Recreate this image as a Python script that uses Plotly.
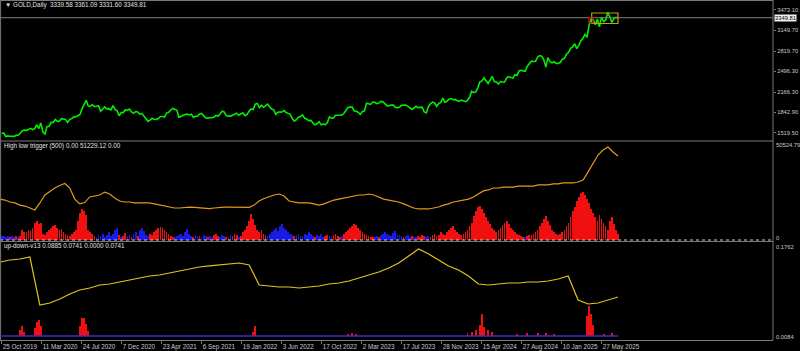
import numpy as np
import plotly.graph_objects as go

# ---------------- data ----------------
tick_labels = ["25 Oct 2019", "11 Mar 2020", "24 Jul 2020", "7 Dec 2020", "23 Apr 2021",
               "6 Sep 2021", "19 Jan 2022", "3 Jun 2022", "17 Oct 2022", "2 Mar 2023",
               "17 Jul 2023", "28 Nov 2023", "15 Apr 2024", "27 Aug 2024", "10 Jan 2025",
               "27 May 2025"]
tick_bar_index = [0, 96, 192, 288, 384, 480, 576, 672, 768, 864, 960, 1056, 1152, 1248, 1344, 1440]

price_ticks = [3473.10, 3149.70, 2819.70, 2496.30, 2166.30, 1842.90, 1519.50]
last_close = 3349.81
header_main = "▼ GOLD,Daily  3339.58 3361.09 3331.60 3349.81"
header_hlt = "High low trigger (500) 0.00 51229.12 0.00"
header_ud = "up-down-v13 0.0885 0.0741 0.0000 0.0741"
hlt_scale_labels = ["50524.79", "0"]
ud_scale_labels = ["0.1762", "0.0084"]

# weekly closes, 25 Oct 2019 .. 18 Jul 2025
gold_weekly_close = [
    1505, 1514, 1459, 1468, 1462, 1464, 1460, 1476, 1478, 1511,
    1552, 1562, 1557, 1571, 1589, 1570, 1584, 1643, 1585, 1673, 1530, 1498, 1617,
    1620, 1683, 1683, 1729, 1700, 1703, 1743, 1735, 1730, 1684, 1730, 1743, 1771,
    1774, 1798, 1810, 1902, 1975, 2035, 1944, 1940, 1964, 1934, 1940, 1950, 1861,
    1900, 1930, 1899, 1902, 1879, 1951, 1889, 1871, 1788, 1839, 1839, 1881, 1877,
    1895, 1849, 1828, 1856, 1848, 1814, 1824, 1784, 1734, 1700, 1719, 1745, 1733,
    1729, 1744, 1777, 1777, 1769, 1831, 1843, 1881, 1905, 1892, 1877, 1764, 1781,
    1787, 1808, 1815, 1802, 1814, 1763, 1780, 1781, 1817, 1827, 1787, 1754, 1751,
    1761, 1757, 1768, 1793, 1783, 1818, 1865, 1846, 1788, 1783, 1783, 1798, 1808, 1829,
    1797, 1818, 1835, 1791, 1808, 1859, 1898, 1889, 1970, 1988, 1921, 1958,
    1925, 1946, 1975, 1932, 1897, 1883, 1811, 1846, 1853, 1850, 1871, 1840, 1827,
    1811, 1742, 1703, 1727, 1766, 1775, 1802, 1747, 1737, 1712, 1716, 1675, 1644, 1661,
    1695, 1644, 1657, 1645, 1681, 1771, 1751, 1755, 1797, 1797, 1793, 1798, 1824,
    1865, 1920, 1926, 1928, 1865, 1865, 1842, 1811, 1856, 1868, 1989, 1978, 1969,
    2007, 2004, 1983, 1990, 2017, 2011, 1978, 1946, 1948, 1961, 1958, 1921, 1919,
    1925, 1955, 1962, 1959, 1943, 1914, 1889, 1915, 1940, 1919, 1924, 1925, 1849,
    1833, 1933, 1981, 2006, 1992, 1940, 1981, 2002, 2072, 2005, 2020, 2053, 2063,
    2045, 2049, 2029, 2018, 2039, 2024, 2013, 2035, 2083, 2179, 2156, 2165, 2233,
    2329, 2344, 2391, 2337, 2301, 2360, 2415, 2334, 2327, 2293, 2333, 2322, 2326,
    2392, 2411, 2400, 2386, 2443, 2431, 2507, 2512, 2503, 2497, 2578, 2621, 2658,
    2653, 2657, 2721, 2747, 2736, 2685, 2563, 2715, 2650, 2633, 2648, 2622, 2621,
    2640, 2690, 2703, 2770, 2798, 2861, 2883, 2936, 2858, 2910, 2984, 3023, 3085,
    3037, 3237, 3327, 3319, 3240, 3325, 3204, 3358, 3289, 3310, 3433, 3368, 3274,
    3337, 3355, 3349.81,
]

# High low trigger line (thousands), evenly sampled over the drawn bars
hlt_line_k = [
    21.1, 20.6, 19.6, 19.1, 18.0, 17.5, 16.5, 15.5, 19.1, 23.2, 25.0, 26.8, 28.1, 29.1,
    26.8, 21.1, 18.6, 19.3, 22.2, 22.7, 23.2, 24.7, 23.7, 21.7, 20.1, 19.6, 19.6, 19.1,
    19.1, 19.3, 19.1, 18.6, 18.0, 17.5, 17.0, 16.5, 16.5, 16.8, 17.0, 16.8, 16.5, 16.5,
    16.2, 16.5, 16.8, 17.0, 17.0, 17.0, 16.8, 16.8, 16.8, 18.0, 20.1, 21.4, 22.4, 23.2,
    23.7, 22.7, 20.1, 19.6, 19.1, 19.1, 19.1, 18.6, 18.0, 18.6, 19.6, 20.6, 21.1, 21.7,
    22.2, 22.7, 23.2, 23.2, 23.7, 23.2, 22.2, 21.1, 20.6, 20.1, 19.6, 18.6, 17.5, 16.5,
    16.0, 16.0, 16.0, 16.5, 17.0, 18.0, 18.6, 19.6, 20.1, 20.6, 21.1, 22.2, 23.7, 25.3,
    25.8, 26.8, 26.8, 27.3, 27.3, 27.3, 27.8, 27.8, 27.8, 27.8, 28.4, 28.4, 28.4, 28.9,
    28.9, 29.4, 29.4, 29.4, 29.9, 30.9, 35.1, 39.7, 43.8, 46.4, 47.9, 45.4, 43.3,
]

# High low trigger histogram, one value per week (thousands); + red, - blue
hlt_hist_k = [
    -2, -2, -1.5, -2, 1.5, -2, -1.5, 2, -1.5, 2,
    5, 4, 4, 5, 4.5, 6, 9, 10, 8, 9,
    3, 2.5, 4, 5, 6,
    7, 7.5, 6, 5, 5.5, 4, 3,
    2.5, 2, 3, 4, 5,
    10, 14, 16, 15, 13,
    5, 4, 3, 2,
    -1.5, -2.5, -2, -3, -1.5, -2.5, -4, -2, -3, -5, -6,
    2.5, -1.5, 2, 3.5, -2, -2.5, 1.5, -3, -4, 2, -5, -6, -4.5,
    -2.5, -2, 3, 2.5,
    4, 5, 6, 6.5, 6, 5, 4, 3, 2, 1.5, -1.5,
    -2, -2.5, -3, -2, -4, -5.5, -3, -2, 1.5, -2.5, -2, 2, -1.5, -2.5, -2,
    1.5, -2, -1.5, 2.5, 3, 2, -1.5, -2.5, -2, 1.5, -1.5, -2.5, 2, 3, 2.5, -1.5, 2, 4, 5,
    7, 10, 13.5, 11, 7.5, 5, 4,
    5, 3, 2.5, -2, -3,
    -4, -5, -6, -4.5, -7, -8.5, -6, -5, -4, -3, -2.5, 2, -2.5, -3, -2,
    -2, -3, -2.5, -4, -3, -2, 1.5, -2.5, -2, -3, -1.5, 2, 2.5, -2, -1.5, 2.5, 3, 2, 1.5, -2,
    3, 4, 5, 6, 7, 8, 7.5, 6, 5, 4, 3, 2.5, 2, 1.5, 1.5,
    -1.5, -2, 1.5, -2.5, -3, -4, -3, -2.5, -2, -3.5, -4.5, -3, -2.5, -2, 1.5, -2, -2.5, -1.5, 2, -1.5,
    -1.5, 2, 1.5, 2.5, 2, -1.5, -2, 1.5, 2.5, 3, 2, 2.5, 4, 3, 2.5,
    4, 5, 6, 7, 5, 4, 3, 2.5, 3, 4, 5, 7, 9,
    12.5, 15, 17, 17.5, 16, 14, 12, 10, 8, 6, 5, 4,
    5, 6, 7.5, 9, 10, 8, 6, 5, 4, 3, 2.5, 2, 1.5, -1.5, 2, 2.5,
    2.5, 3, 4, 5, 7, 9, 11, 12.5, 10, 7.5, 5, 4,
    3, 2.5, 3, 4, 5, 7, 9, 12, 15, 17, 20,
    22, 24, 25, 23, 21, 19, 16, 14, 12, 10,
    13, 11, 9, 7, 5, 10, 12, 8, 5, 3,
]

# up-down-v13 line, evenly sampled over the drawn bars
ud_line = [
    0.1402, 0.1438, 0.1456, 0.1492, 0.0629, 0.0665, 0.0737, 0.0827, 0.0899, 0.0935,
    0.0989, 0.1007, 0.1043, 0.1079, 0.1115, 0.1151, 0.1169, 0.1205, 0.1241, 0.1277,
    0.1313, 0.1331, 0.1349, 0.1366, 0.1384, 0.1349, 0.0989, 0.0971, 0.0953, 0.0953,
    0.0935, 0.0953, 0.0971, 0.1007, 0.1025, 0.1061, 0.1115, 0.1169, 0.1223, 0.1295,
    0.1384, 0.1510, 0.1636, 0.1546, 0.1438, 0.1331, 0.1259, 0.1151, 0.1007, 0.0989,
    0.1007, 0.1025, 0.1025, 0.1043, 0.1043, 0.1061, 0.1097, 0.1151, 0.0719, 0.0647,
    0.0665, 0.0719, 0.0773,
]
ud_baseline = 0.0072
# up-down-v13 red histogram spikes: (week number, value)
ud_spikes = [
    (9, 0.011), (10, 0.018), (11, 0.008), (16, 0.014), (17, 0.025), (18, 0.029), (19, 0.018),
    (38, 0.018), (39, 0.032), (40, 0.032), (41, 0.022), (42, 0.009),
    (122, 0.007), (123, 0.018), (168, 0.004), (170, 0.005), (172, 0.004),
    (226, 0.006), (228, 0.008), (230, 0.01), (232, 0.02), (233, 0.04), (234, 0.016), (236, 0.01),
    (238, 0.008), (250, 0.004), (255, 0.006), (260, 0.005), (264, 0.006), (268, 0.004),
    (284, 0.036), (285, 0.054), (286, 0.04), (287, 0.02), (292, 0.004), (296, 0.005),
]

# price range box drawn near the end (bar index / price)
range_box = dict(x0=1416, x1=1479, top=3425, bottom=3258)
small_box = dict(x0=1409, x1=1419, top=3350, bottom=3270)

# ---------------- layout helpers ----------------
LAST_BAR = 1479
PLOT_H = 340.0


def dom(top_px, bot_px):
    return [1 - bot_px / PLOT_H, 1 - top_px / PLOT_H]


def py(px):
    return 1 - px / PLOT_H


x_week = np.linspace(0, LAST_BAR, len(gold_weekly_close))
x_hlt = np.linspace(-4, LAST_BAR, len(hlt_line_k))
x_ud = np.linspace(-4, LAST_BAR, len(ud_line))

TXT = "#c8c8c8"
GRAY = "#7a7a7a"
FONT = "Liberation Sans"

fig = go.Figure()

# pane 1: price line
fig.add_trace(go.Scatter(x=x_week, y=gold_weekly_close, mode="lines",
                         line=dict(color="#00ee00", width=1.6), xaxis="x", yaxis="y",
                         hoverinfo="skip"))

# pane 2: histogram + line
hist = np.array(hlt_hist_k)
fig.add_trace(go.Bar(x=x_week, y=np.abs(hist),
                     marker=dict(color=["#f01010" if v > 0 else "#1a1ae6" for v in hist],
                                 line=dict(width=0)),
                     width=1.8, xaxis="x", yaxis="y2", hoverinfo="skip"))
fig.add_trace(go.Scatter(x=x_hlt, y=hlt_line_k, mode="lines",
                         line=dict(color="#e39b1b", width=1.2), xaxis="x", yaxis="y2",
                         hoverinfo="skip"))

# pane 3
sp_x = [x_week[k] for k, v in ud_spikes]
sp_y = [v for k, v in ud_spikes]
fig.add_trace(go.Scatter(x=[0, LAST_BAR], y=[ud_baseline, ud_baseline], mode="lines",
                         line=dict(color="#4a28c8", width=1.5), xaxis="x", yaxis="y3",
                         hoverinfo="skip"))
fig.add_trace(go.Bar(x=sp_x, y=sp_y, base=ud_baseline,
                     marker=dict(color="#f01010", line=dict(width=0)),
                     width=2.2, xaxis="x", yaxis="y3", hoverinfo="skip"))
fig.add_trace(go.Scatter(x=x_ud, y=ud_line, mode="lines",
                         line=dict(color="#e2c31c", width=1.2), xaxis="x", yaxis="y3",
                         hoverinfo="skip"))

shapes = []
line_gray = dict(color=GRAY, width=1)
# frame / separators
for ypx in [0.5, 141, 241.5]:
    shapes.append(dict(type="line", xref="paper", yref="paper", x0=0, x1=1,
                       y0=py(ypx), y1=py(ypx), line=line_gray))
shapes.append(dict(type="line", xref="paper", yref="paper", x0=0, x1=1,
                   y0=py(240), y1=py(240), line=dict(color="#d0d0d0", width=1, dash="dot")))
shapes.append(dict(type="line", xref="paper", yref="paper", x0=1, x1=1, y0=0, y1=1,
                   line=line_gray))
shapes.append(dict(type="line", xref="paper", yref="paper", x0=0.0008, x1=0.0008, y0=0, y1=1,
                   line=line_gray))
# current price line
shapes.append(dict(type="line", xref="paper", yref="y", x0=0, x1=1, y0=last_close,
                   y1=last_close, line=dict(color="#808080", width=1)))
# range boxes
shapes.append(dict(type="rect", xref="x", yref="y", x0=range_box["x0"], x1=range_box["x1"],
                   y0=range_box["bottom"], y1=range_box["top"],
                   line=dict(color="#c8a400", width=1.2)))
shapes.append(dict(type="rect", xref="x", yref="y", x0=small_box["x0"], x1=small_box["x1"],
                   y0=small_box["bottom"], y1=small_box["top"],
                   line=dict(color="#c01010", width=1.2)))

ann = []
hdr_font = dict(family=FONT, size=6.3, color="#e0e0e0")
ann.append(dict(text=header_main, xref="paper", yref="paper", x=0, y=py(5), xanchor="left",
                yanchor="middle", xshift=3, showarrow=False, font=hdr_font))
ann.append(dict(text=header_hlt, xref="paper", yref="paper", x=0, y=py(146), xanchor="left",
                yanchor="middle", xshift=2, showarrow=False, font=hdr_font))
ann.append(dict(text=header_ud, xref="paper", yref="paper", x=0, y=py(246), xanchor="left",
                yanchor="middle", xshift=2, showarrow=False, font=hdr_font))
lab_font = dict(family=FONT, size=5.8, color=TXT)
for txt, ypx in zip(hlt_scale_labels, [145, 238]):
    ann.append(dict(text=txt, xref="paper", yref="paper", x=1, y=py(ypx), xanchor="left",
                    yanchor="middle", xshift=1, showarrow=False, font=lab_font))
for txt, ypx in zip(ud_scale_labels, [246.5, 337]):
    ann.append(dict(text=txt, xref="paper", yref="paper", x=1, y=py(ypx), xanchor="left",
                    yanchor="middle", xshift=1, showarrow=False, font=lab_font))
ann.append(dict(text=f"{last_close:.2f}", xref="paper", yref="y", x=1, y=last_close,
                xanchor="left", yanchor="middle", xshift=1, showarrow=False,
                font=dict(family=FONT, size=5.8, color="#000000"), bgcolor="#f0f0f0",
                borderpad=0))

fig.update_layout(
    width=800, height=351,
    margin=dict(l=0, r=27, t=0, b=11, autoexpand=False),
    paper_bgcolor="#000000", plot_bgcolor="#000000",
    showlegend=False, bargap=0,
    shapes=shapes, annotations=ann,
    xaxis=dict(range=[-4, 1851], anchor="y3", tickvals=tick_bar_index, ticktext=tick_labels,
               ticks="outside", ticklen=3, tickcolor=GRAY, tickangle=0, automargin=False,
               tickfont=dict(family=FONT, size=6.3, color=TXT),
               ticklabelposition="outside right", showgrid=False, zeroline=False,
               showline=True, linecolor=GRAY, linewidth=1, fixedrange=True),
    yaxis=dict(domain=dom(1, 141), range=[1387, 3616], side="right", anchor="x",
               tickvals=price_ticks, ticktext=[f"{v:.2f}" for v in price_ticks],
               ticks="outside", ticklen=2, tickcolor=GRAY, automargin=False,
               tickfont=dict(family=FONT, size=5.8, color=TXT),
               showgrid=False, zeroline=False),
    yaxis2=dict(domain=dom(142, 240), range=[0, 50.52479], anchor="x", showticklabels=False,
                showgrid=False, zeroline=False, automargin=False),
    yaxis3=dict(domain=dom(242, 340), range=[0, 0.1762], anchor="x", showticklabels=False,
                showgrid=False, zeroline=False, automargin=False),
)

fig.write_html("out.html")
